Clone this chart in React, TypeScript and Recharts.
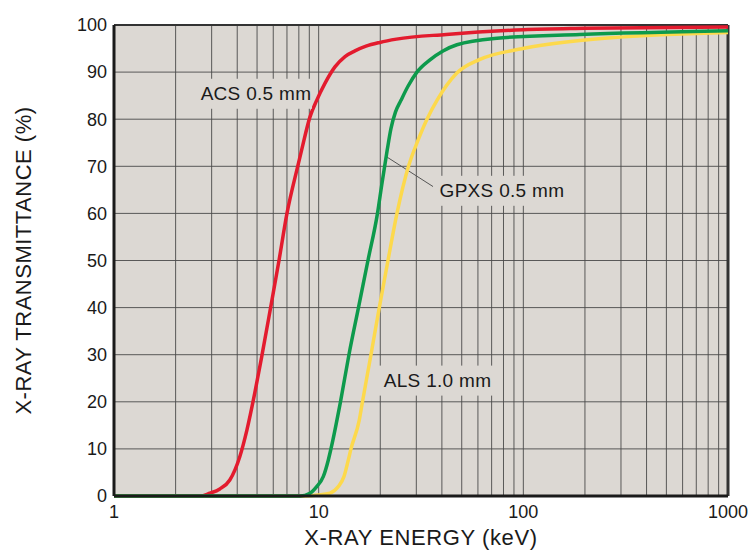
import {
  LineChart, Line, XAxis, YAxis, CartesianGrid, ReferenceLine, ReferenceDot,
} from 'recharts';

// x-ray energy (keV) vs transmittance (%)
const acsEnergy = [1, 2.63, 2.94, 3.29, 3.68, 4.12, 4.46, 4.88, 5.28, 5.78, 6.4, 7.0, 7.9, 8.26, 9.07, 9.78, 10.73, 12.01, 13.45, 15.04, 17.03, 19.9, 24, 42, 100, 200, 1000];
const acsTrans = [0, 0, 0.6, 1.5, 3.4, 8.4, 14, 22, 29.8, 39.2, 50, 60, 70, 73.5, 80.5, 84, 87.6, 91.1, 93.3, 94.5, 95.5, 96.3, 97, 98, 99, 99.3, 99.6];

const gpxsEnergy = [1, 8.1, 9.07, 9.78, 10.53, 11.14, 11.48, 12.78, 14.06, 15.65, 17.41, 19.38, 20.32, 21.63, 22.55, 23.72, 25.24, 27.32, 30.21, 34.98, 40.49, 47.38, 74.3, 189, 1000];
const gpxsTrans = [0, 0, 0.6, 2, 4.1, 7.6, 10, 20, 30, 40, 50, 60, 66, 73.5, 78, 81.5, 84, 87, 90, 92.6, 94.5, 95.8, 97.2, 98, 98.8];

const alsEnergy = [1, 8.57, 9.92, 11.36, 12.47, 13.29, 13.95, 14.38, 15.79, 16.37, 18.01, 19.78, 21.81, 24.13, 27.47, 30.56, 33.82, 37.85, 47.38, 61.4, 99.5, 189, 1000];
const alsTrans = [0, 0, 0.2, 0.6, 2, 4.1, 7.6, 10, 16.1, 20, 30, 40, 50, 60, 70, 75.5, 80, 84, 89.8, 92.7, 95, 96.7, 98.4];

const xTicks = [1, 2, 3, 4, 5, 6, 7, 8, 9, 10, 20, 30, 40, 50, 60, 70, 80, 90, 100, 200, 300, 400, 500, 600, 700, 800, 900, 1000];
const xLabels = [1, 10, 100, 1000];
const yTicks = [0, 10, 20, 30, 40, 50, 60, 70, 80, 90, 100];

const labels = [
  { text: 'ACS 0.5 mm', x: 4.94, y: 85.4, w: 112 },
  { text: 'GPXS 0.5 mm', x: 78.6, y: 64.8, w: 134 },
  { text: 'ALS 1.0 mm', x: 38.1, y: 24.5, w: 118 },
];
const leader = [{ x: 21.5, y: 72 }, { x: 36.2, y: 65.7 }];

const toPoints = (xs: number[], ys: number[]) => xs.map((e, i) => ({ e, t: ys[i] }));

const FONT = '"Liberation Sans", Arial, Helvetica, sans-serif';
const BG = '#dcd8d3';
const INK = '#1a1a1a';

const labelShape = (text: string, w: number) => (props: any) => {
  const { cx, cy } = props;
  return (
    <g>
      <rect x={cx - w / 2} y={cy - 15} width={w} height={30} fill={BG} />
      <text x={cx} y={cy} dy="0.35em" textAnchor="middle" fontSize={19} letterSpacing={0.3} fill={INK} fontFamily={FONT}>
        {text}
      </text>
    </g>
  );
};

export default function App() {
  return (
    <div style={{ position: 'absolute', left: 0, top: 0, width: 750, height: 550, background: '#fff', fontFamily: FONT }}>
      <LineChart width={750} height={550} margin={{ top: 25, right: 22, left: 54, bottom: 0 }}>
        <CartesianGrid fill={BG} stroke="#4a4a4a" strokeWidth={1} strokeOpacity={0.9} />
        <XAxis
          dataKey="e"
          type="number"
          scale="log"
          domain={[1, 1000]}
          ticks={xTicks}
          interval={0}
          tickFormatter={(v: number) => (xLabels.includes(v) ? String(v) : '')}
          tickLine={false}
          tickSize={0}
          tickMargin={9}
          height={54}
          axisLine={{ stroke: INK, strokeWidth: 3 }}
          tick={{ fill: INK, fontSize: 18, fontFamily: FONT }}
          allowDuplicatedCategory={false}
          label={{ value: 'X-RAY ENERGY (keV)', position: 'insideBottom', offset: 5, fill: INK, fontSize: 22, letterSpacing: 0.6, fontFamily: FONT }}
        />
        <YAxis
          type="number"
          domain={[0, 100]}
          ticks={yTicks}
          interval={0}
          tickLine={false}
          tickSize={0}
          tickMargin={7}
          width={60}
          axisLine={{ stroke: INK, strokeWidth: 3 }}
          tick={{ fill: INK, fontSize: 18, fontFamily: FONT }}
          label={{ value: 'X-RAY TRANSMITTANCE (%)', angle: -90, position: 'insideLeft', offset: -31, fill: INK, fontSize: 22, letterSpacing: 0.5, fontFamily: FONT, style: { textAnchor: 'middle' } }}
        />
        <ReferenceLine y={100} stroke="#333" strokeWidth={2} />
        <ReferenceLine x={1000} stroke="#333" strokeWidth={3} />
        {labels.map((l) => (
          <ReferenceDot key={l.text} x={l.x} y={l.y} r={0} shape={labelShape(l.text, l.w)} />
        ))}
        <ReferenceLine segment={leader} stroke="#555" strokeWidth={1} />
        <Line data={toPoints(acsEnergy, acsTrans)} dataKey="t" type="monotone" stroke="#e31b2e" strokeWidth={3.5} dot={false} isAnimationActive={false} />
        <Line data={toPoints(alsEnergy, alsTrans)} dataKey="t" type="monotone" stroke="#fdd94c" strokeWidth={3.5} dot={false} isAnimationActive={false} />
        <Line data={toPoints(gpxsEnergy, gpxsTrans)} dataKey="t" type="monotone" stroke="#0d9a4c" strokeWidth={3.5} dot={false} isAnimationActive={false} />
      </LineChart>
    </div>
  );
}
